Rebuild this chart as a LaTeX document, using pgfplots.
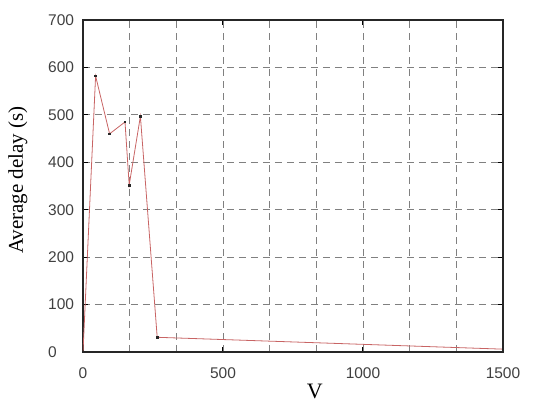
\documentclass[border=0pt]{standalone}
\usepackage{pgfplots}
\pgfplotsset{compat=1.18}
\usepackage{fontspec}
\setmainfont{Liberation Serif}
\newfontfamily\tickfont{Liberation Sans}
\definecolor{lineC}{RGB}{200,100,100}
\begin{document}
\begin{tikzpicture}[x=1pt,y=1pt]
\useasboundingbox (-83,-57) rectangle (467,352);
\begin{axis}[
  scale only axis,
  width=420pt, height=332pt,
  xmin=0, xmax=1500, ymin=0, ymax=700,
  xtick={0,500,1000,1500},
  minor xtick={166.667,333.333,666.667,833.333,1166.667,1333.333},
  ytick={0,100,...,700},
  grid=both,
  major grid style={black!50, dash pattern=on 7pt off 5pt, line width=0.8pt},
  minor grid style={black!50, dash pattern=on 7pt off 5pt, line width=0.8pt},
  minor tick length=0pt,
  major tick length=5pt,
  tick style={black, line width=1pt},
  axis line style={black!85, line width=1.3pt},
  tick align=inside,
  /pgf/number format/assume math mode=true,
  /pgf/number format/1000 sep={},
  ticklabel style={font=\tickfont\fontsize{15.5}{15.5}\selectfont, text=black!75},
  xticklabel style={yshift=-12pt},
  yticklabel style={anchor=west, inner sep=0pt, xshift=-35pt},
  xlabel={V},
  ylabel={Average delay (s)},
  xlabel style={font=\fontsize{22}{22}\selectfont, at={(axis description cs:0.552,-0.12)}, anchor=center},
  ylabel style={font=\fontsize{21}{21}\selectfont, at={(axis description cs:-0.155,0.518)}, anchor=center},
]
\addplot[color=lineC, line width=0.8pt, mark=square*, mark size=0.9pt,
  mark options={black!85, fill=black!85}] coordinates {
  (0,0) (45,582) (95,460) (150,485) (165,352) (205,497) (265,31) (1500,6)
};
\end{axis}
\end{tikzpicture}
\end{document}
